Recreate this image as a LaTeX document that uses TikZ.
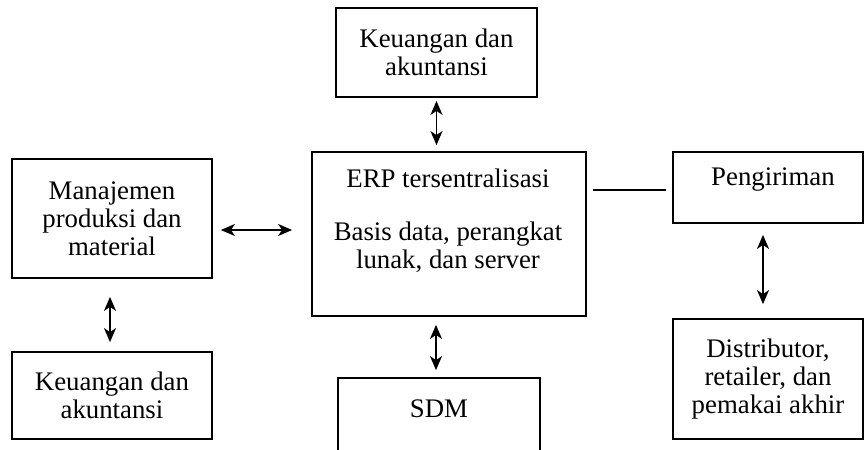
\documentclass[tikz,border=0pt]{standalone}
\usepackage{fontspec}
\setmainfont{Liberation Serif}
\usetikzlibrary{arrows.meta}
\begin{document}
\begin{tikzpicture}[x=0.5pt,y=-0.5pt,
  box/.style={draw,line width=0.9pt,rectangle,inner sep=0pt,align=center,font=\fontsize{13.4pt}{14pt}\selectfont},
  txt/.style={inner sep=0pt,align=center,font=\fontsize{13.4pt}{14pt}\selectfont},
  dbl/.style={line width=0.85pt,{Stealth[length=7pt,width=6pt,inset=2pt]}-{Stealth[length=7pt,width=6pt,inset=2pt]}},
  link/.style={line width=0.9pt}]
\useasboundingbox (0,0) rectangle (864,450);
% boxes
\node[box, minimum width=100.5pt, minimum height=44.5pt] (ka1) at (436.5,52.5) {Keuangan dan\\akuntansi};
\node[box, minimum width=137pt, minimum height=82pt] (erp) at (449,234) {};
\node[box, minimum width=100pt, minimum height=59.5pt] (man) at (112,218.5) {Manajemen\\produksi dan\\material};
\node[box, minimum width=95pt, minimum height=35.5pt] (peng) at (768,187.5) {};
\node[box, minimum width=95pt, minimum height=60pt] (dist) at (768,379) {Distributor,\\retailer, dan\\pemakai akhir};
\node[box, minimum width=100pt, minimum height=43.5pt] (ka2) at (112,395.5) {Keuangan dan\\akuntansi};
\node[box, draw=none, minimum width=100pt, minimum height=35.5pt] (sdm) at (439,414.5) {};
\draw[line width=0.9pt] (sdm.south west) -- (sdm.north west) -- (sdm.north east) -- (sdm.south east);
% texts placed off-centre
\node[txt, anchor=north] (erptxt) at (448,168.7) {ERP tersentralisasi\\[12.5pt]Basis data, perangkat\\lunak, dan server};
\node[txt, anchor=base] (pengtxt) at (773,185) {Pengiriman};
\node[txt, anchor=base] (sdmtxt) at (439,417) {SDM};
% connectors
\draw[dbl, shorten <=1.5pt, shorten >=3pt] (ka1.south) -- (ka1.south |- erp.north);
\draw[dbl, shorten <=4pt, shorten >=9.5pt] ([yshift=-5.75pt]man.east) -- ([yshift=-5.75pt]man.east -| erp.west);
\draw[link, shorten <=3pt, shorten >=3pt] ([yshift=-1.25pt]peng.west -| erp.east) -- ([yshift=-1.25pt]peng.west);
\draw[dbl, shorten <=5.5pt, shorten >=7pt] ([xshift=-2.5pt]peng.south) -- ([xshift=-2.5pt]dist.north);
\draw[dbl, shorten <=9pt, shorten >=4.5pt] ([xshift=-1pt]man.south) -- ([xshift=-1pt]ka2.north);
\draw[dbl, shorten <=4pt, shorten >=4pt] ([xshift=-1.5pt]sdm.north |- erp.south) -- ([xshift=-1.5pt]sdm.north);
\end{tikzpicture}
\end{document}
